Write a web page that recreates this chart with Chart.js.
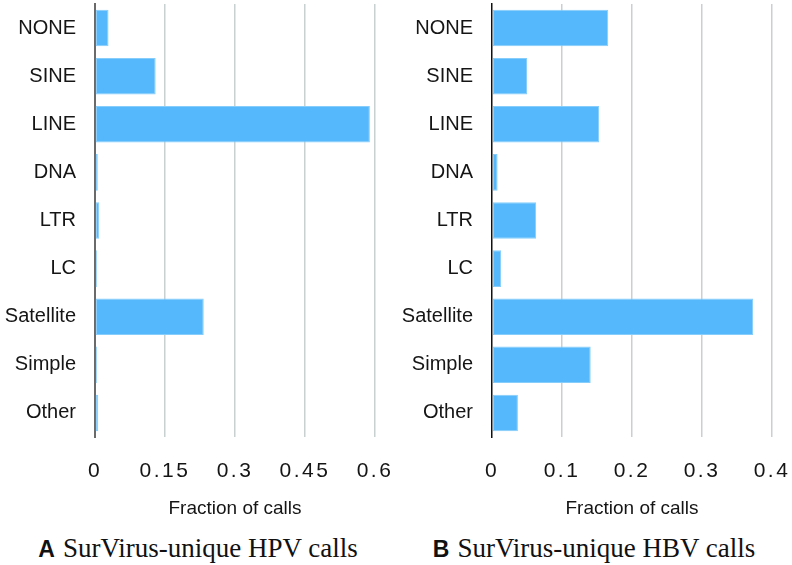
<!DOCTYPE html>
<html>
<head>
<meta charset="utf-8">
<script src="https://cdn.jsdelivr.net/npm/chart.js@4.4.1/dist/chart.umd.min.js"></script>
<style>
  html, body { margin: 0; padding: 0; background: #fff; }
  #wrap { position: relative; width: 792px; height: 565px; overflow: hidden; background: #fff; }
  .panel { position: absolute; top: 0; width: 396px; height: 525px; }
  .cap { position: absolute; top: 531px; width: 396px; text-align: center; white-space: nowrap;
         font-family: "Liberation Serif", "Times New Roman", serif; font-size: 27px; line-height: 34px; color: #111; }
  .cap b { font-family: "Liberation Sans", Arial, sans-serif; font-weight: bold; font-size: 23px; margin-right: 8px; }
</style>
</head>
<body>
<div id="wrap">
  <div class="panel" style="left:0"><canvas id="cA"></canvas></div>
  <div class="panel" style="left:396px"><canvas id="cB"></canvas></div>
  <div class="cap" style="left:0px"><b>A</b>SurVirus-unique HPV calls</div>
  <div class="cap" style="left:396px"><b>B</b>SurVirus-unique HBV calls</div>
</div>
<script>
// ---- data ----
const categories = ['NONE', 'SINE', 'LINE', 'DNA', 'LTR', 'LC', 'Satellite', 'Simple', 'Other'];
const hpvFraction = [0.029, 0.130, 0.589, 0.006, 0.009, 0.004, 0.233, 0.004, 0.007];
const hbvFraction = [0.166, 0.050, 0.153, 0.008, 0.063, 0.013, 0.373, 0.141, 0.037];
const hpvTickValues = [0, 0.15, 0.3, 0.45, 0.6];
const hpvTickLabels = ['0', '0.15', '0.3', '0.45', '0.6'];
const hbvTickValues = [0, 0.1, 0.2, 0.3, 0.4];
const hbvTickLabels = ['0', '0.1', '0.2', '0.3', '0.4'];
const xAxisTitle = 'Fraction of calls';

const BAR = '#55b8fc';
const BAR_EDGE = '#86cdfc';
const GRID = '#c8d0d0';
const TEXT = '#151515';

const spacingPlugin = {
  id: 'tickSpacing',
  afterUpdate(chart) {
    const s = chart.scales.x;
    if (!s || s._spPatched) return;
    const orig = s.drawLabels.bind(s);
    s.drawLabels = function (ca) {
      const c = this.ctx;
      const prev = c.letterSpacing;
      try { c.letterSpacing = '2.5px'; } catch (e) {}
      orig(ca);
      try { c.letterSpacing = prev || '0px'; } catch (e) {}
    };
    s._spPatched = true;
  }
};

function zeroPad(scale) {
  scale.paddingTop = 0; scale.paddingBottom = 0;
  scale.paddingLeft = 0; scale.paddingRight = 0;
}

function makeChart(id, values, tickValues, tickLabels, yLeft, axisColor, axisWidth, padRight) {
  const H = 525;
  const plotBottom = 437;
  return new Chart(document.getElementById(id), {
    type: 'bar',
    data: {
      labels: categories,
      datasets: [{
        data: values,
        backgroundColor: BAR,
        borderColor: BAR_EDGE,
        borderWidth: 1,
        borderSkipped: false,
        categoryPercentage: 1.0,
        barPercentage: 0.76
      }]
    },
    options: {
      indexAxis: 'y',
      responsive: true,
      maintainAspectRatio: false,
      animation: false,
      layout: { padding: { top: 4, right: padRight, bottom: 0, left: 0 } },
      plugins: { legend: { display: false }, tooltip: { enabled: false }, title: { display: false } },
      scales: {
        x: {
          type: 'linear',
          min: tickValues[0],
          max: tickValues[tickValues.length - 1],
          afterBuildTicks(scale) { scale.ticks = tickValues.map(v => ({ value: v })); },
          afterFit(scale) { scale.height = H - plotBottom; zeroPad(scale); },
          grid: {
            drawTicks: false,
            lineWidth: 1.5,
            color: ctx => (ctx.tick && ctx.tick.value === 0) ? 'rgba(0,0,0,0)' : GRID
          },
          border: { display: false },
          ticks: {
            padding: 22,
            color: TEXT,
            font: { family: '"Liberation Sans", Arial, sans-serif', size: 21 },
            callback: (v, i) => tickLabels[i],
            maxRotation: 0
          },
          title: {
            display: true,
            text: xAxisTitle,
            color: TEXT,
            font: { family: '"Liberation Sans", Arial, sans-serif', size: 19 },
            padding: { top: 0, bottom: 5 }
          }
        },
        y: {
          type: 'category',
          afterFit(scale) { scale.width = yLeft; zeroPad(scale); },
          grid: { display: false, drawTicks: false },
          border: { display: true, color: axisColor, width: axisWidth },
          ticks: {
            padding: 19,
            color: TEXT,
            font: { family: '"Liberation Sans", Arial, sans-serif', size: 20 }
          }
        }
      }
    },
    plugins: [spacingPlugin]
  });
}

makeChart('cA', hpvFraction, hpvTickValues, hpvTickLabels, 95, '#6a6a6a', 2, 21);
makeChart('cB', hbvFraction, hbvTickValues, hbvTickLabels, 96, '#111111', 1.5, 20);
</script>
</body>
</html>
